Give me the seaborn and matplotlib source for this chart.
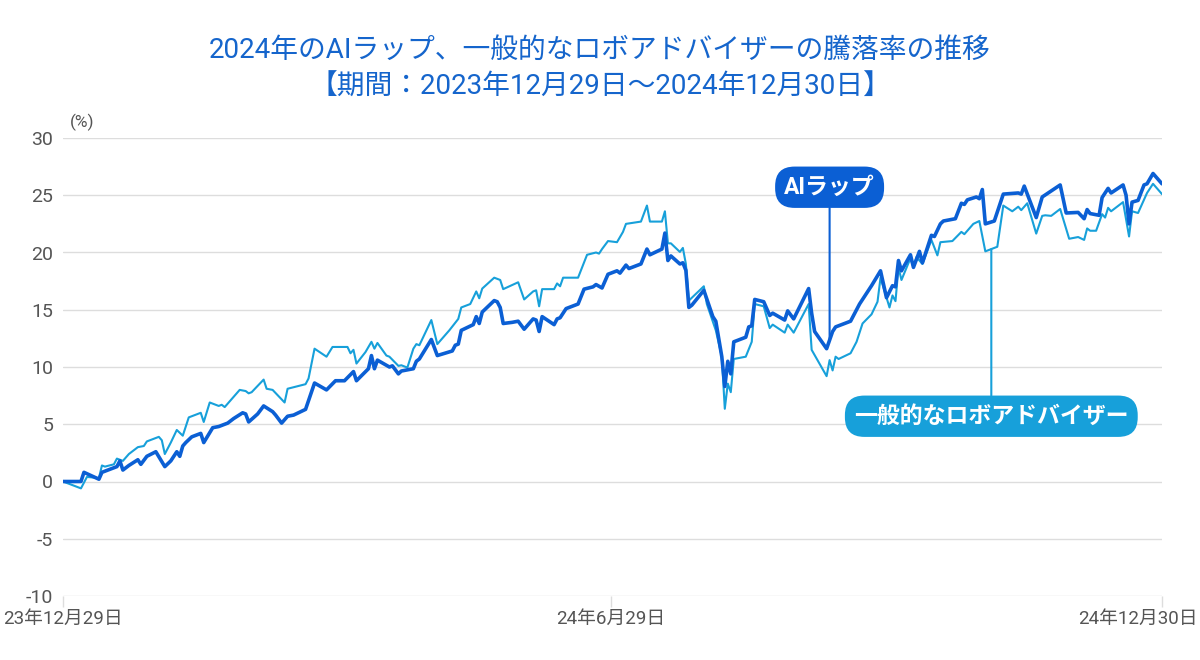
import pandas as pd
import numpy as np
import matplotlib
matplotlib.use("Agg")
import matplotlib.pyplot as plt
import matplotlib.transforms as mtransforms
import seaborn as sns

# days since 2023-12-29 and cumulative return (%)
ai_days = [0, 6, 7, 12, 13, 18, 19, 20, 22, 25, 26, 28, 31, 34, 36, 38, 39, 40, 41, 43,
           46, 47, 50, 52, 55, 57, 60, 61, 62, 65, 67, 70, 71, 73, 75, 77, 81, 84, 88, 91,
           94, 97, 98, 102, 103, 104, 105, 109, 110, 112, 113, 117, 118, 119, 123, 125, 130, 131, 132, 133,
           137, 138, 139, 140, 144, 145, 146, 147, 150, 152, 154, 157, 158, 159, 160, 164, 165, 166, 168, 172,
           174, 177, 178, 180, 182, 185, 186, 188, 189, 193, 195, 196, 200, 201, 202, 203, 206, 207, 208, 209,
           210, 214, 217, 218, 220, 221, 222, 223, 224, 228, 229, 230, 231, 234, 236, 237, 241, 242, 244, 249,
           250, 251, 255, 257, 258, 263, 266, 268, 270, 273, 275, 277, 278, 279, 280, 283, 284, 286, 287, 290,
           291, 293, 294, 298, 300, 301, 302, 305, 306, 307, 308, 311, 314, 319, 320, 321, 325, 327, 333, 335,
           339, 341, 342, 343, 346, 347, 349, 350, 354, 355, 356, 357, 359, 361, 362, 364, 367]
ai_values = [0.0, 0.0, 0.8, 0.2, 0.8, 1.3, 1.8, 1.0, 1.4, 1.9, 1.5, 2.2, 2.6, 1.3, 1.8, 2.6, 2.2, 3.1, 3.4, 3.9,
             4.2, 3.4, 4.7, 4.8, 5.1, 5.5, 6.0, 5.9, 5.2, 5.9, 6.6, 6.1, 5.8, 5.1, 5.7, 5.8, 6.3, 8.6, 8.0, 8.8,
             8.8, 9.6, 8.8, 9.85, 11.0, 9.85, 10.6, 10.0, 10.1, 9.4, 9.65, 9.85, 10.5, 10.7, 12.4, 11.0, 11.4, 11.9, 12.0, 13.2,
             13.7, 14.4, 13.8, 14.8, 15.8, 15.7, 15.2, 13.8, 13.9, 14.0, 13.3, 14.2, 14.1, 13.1, 14.4, 13.7, 14.2, 14.3, 15.1, 15.5,
             16.8, 17.0, 17.2, 16.9, 18.1, 18.4, 18.2, 18.9, 18.6, 19.0, 20.3, 19.8, 20.3, 21.7, 19.3, 19.7, 19.0, 19.1, 18.45, 15.2,
             15.4, 16.7, 14.4, 14.0, 10.9, 8.3, 10.5, 9.4, 12.2, 12.6, 13.5, 13.6, 15.9, 15.7, 14.5, 14.7, 14.1, 14.9, 14.2, 16.85,
             14.7, 13.1, 11.6, 13.1, 13.5, 14.0, 15.5, 16.3, 17.1, 18.4, 16.05, 17.1, 17.0, 19.3, 18.4, 19.8, 18.7, 20.1, 19.1, 21.5,
             21.4, 22.5, 22.75, 22.95, 24.3, 24.2, 24.6, 24.85, 24.7, 25.5, 22.5, 22.75, 25.1, 25.2, 25.1, 25.8, 23.05, 24.85, 25.9, 23.45,
             23.5, 22.95, 23.75, 23.4, 23.25, 24.8, 25.6, 25.2, 25.9, 25.0, 22.5, 24.4, 24.55, 25.9, 26.0, 26.9, 26.0]

robo_days = [0, 6, 8, 12, 13, 14, 17, 18, 20, 22, 25, 27, 28, 32, 33, 34, 36, 38, 40, 41,
             42, 46, 47, 49, 52, 53, 54, 59, 61, 62, 63, 67, 68, 70, 74, 75, 81, 82, 84, 88,
             90, 95, 96, 97, 98, 101, 103, 104, 105, 108, 109, 112, 113, 115, 117, 118, 119, 123, 125, 129,
             132, 133, 136, 138, 139, 140, 144, 146, 147, 152, 154, 157, 158, 159, 160, 164, 165, 166, 167, 172,
             175, 178, 179, 180, 182, 185, 187, 188, 193, 195, 196, 200, 201, 202, 203, 206, 207, 208, 209, 214,
             215, 218, 220, 221, 222, 223, 224, 228, 230, 231, 234, 236, 237, 241, 242, 244, 249, 250, 255, 256,
             257, 258, 259, 263, 265, 267, 270, 272, 273, 276, 277, 278, 279, 280, 283, 284, 285, 287, 290, 292,
             293, 297, 300, 301, 304, 306, 308, 312, 314, 317, 319, 320, 322, 325, 327, 328, 330, 333, 336, 339,
             341, 342, 343, 345, 347, 348, 349, 350, 354, 356, 357, 359, 362, 364, 367]
robo_values = [0.0, -0.6, 0.4, 0.3, 1.4, 1.3, 1.5, 2.0, 1.8, 2.4, 3.0, 3.1, 3.5, 3.9, 3.6, 2.4, 3.4, 4.5, 4.0, 4.8,
               5.6, 6.0, 5.2, 6.9, 6.6, 6.7, 6.5, 8.0, 7.9, 7.7, 7.8, 8.9, 8.1, 8.0, 6.9, 8.1, 8.5, 9.0, 11.6, 10.9,
               11.75, 11.75, 11.2, 11.5, 10.3, 11.3, 12.2, 11.6, 12.1, 11.0, 10.9, 10.1, 10.15, 9.95, 11.6, 12.0, 11.9, 14.1, 12.0, 13.2,
               14.2, 15.2, 15.5, 16.6, 16.0, 16.85, 17.8, 17.6, 16.8, 17.4, 15.9, 16.6, 16.7, 15.3, 16.8, 16.8, 17.3, 17.05, 17.8, 17.8,
               19.8, 20.0, 19.9, 20.3, 21.0, 20.9, 21.8, 22.5, 22.7, 24.1, 22.7, 22.7, 23.6, 20.8, 20.8, 20.05, 20.4, 19.0, 15.8, 17.05,
               15.5, 13.2, 10.9, 6.35, 8.55, 7.8, 10.7, 10.9, 12.2, 15.5, 15.3, 13.4, 13.7, 13.0, 13.7, 13.0, 15.5, 11.5, 9.2, 10.6,
               9.7, 10.9, 10.7, 11.2, 12.2, 13.8, 14.6, 15.7, 17.8, 15.2, 16.25, 15.75, 18.7, 17.6, 19.5, 18.7, 19.6, 19.0, 21.1, 19.75,
               20.9, 21.0, 21.8, 21.6, 22.5, 22.75, 20.1, 20.5, 24.1, 23.6, 24.0, 23.7, 24.3, 21.65, 23.2, 23.25, 23.2, 23.8, 21.2, 21.35,
               21.1, 22.1, 21.9, 21.9, 23.35, 23.05, 23.9, 23.6, 24.4, 21.4, 23.6, 23.45, 25.2, 26.0, 25.1]

start_date = pd.Timestamp("2023-12-29")
end_date = pd.Timestamp("2024-12-30")
tick_dates = ["2023-12-29", "2024-06-29", "2024-12-30"]
tick_labels = ["23年12月29日", "24年6月29日", "24年12月30日"]
y_ticks = [-10, -5, 0, 5, 10, 15, 20, 25, 30]

ai_name = "AIラップ"
robo_name = "一般的なロボアドバイザー"
ai_color = "#0b5fd4"
robo_color = "#17a0da"
title_color = "#1565cc"
label_gray = "#555555"

ai_df = pd.DataFrame({"date": start_date + pd.to_timedelta(ai_days, unit="D"), "value": ai_values})
robo_df = pd.DataFrame({"date": start_date + pd.to_timedelta(robo_days, unit="D"), "value": robo_values})

sns.set_theme(style="white")
plt.rcParams["font.family"] = ["Roboto", "Noto Sans CJK JP", "DejaVu Sans"]

fig = plt.figure(figsize=(12, 6.6), dpi=100)
ax = fig.add_axes([63 / 1200, 64 / 660, 1099 / 1200, 458 / 660])

sns.lineplot(data=robo_df, x="date", y="value", color=robo_color, linewidth=1.5,
             estimator=None, sort=False, ax=ax, zorder=3)
sns.lineplot(data=ai_df, x="date", y="value", color=ai_color, linewidth=2.6,
             estimator=None, sort=False, ax=ax, zorder=4)

ax.set_xlim(start_date, end_date)
ax.set_ylim(-10, 30)
ax.set_yticks(y_ticks)
ax.set_yticklabels([str(v) for v in y_ticks], color=label_gray, fontsize=14)
ax.set_xticks(pd.to_datetime(tick_dates))
ax.set_xticklabels(tick_labels, color=label_gray, fontsize=13.5)
ax.tick_params(axis="y", length=0, pad=7)
ax.tick_params(axis="x", length=8, color="#dddddd", width=1, pad=2, bottom=True)
ax.grid(axis="y", color="#dddddd", linewidth=1)
ax.set_axisbelow(True)
for s in ax.spines.values():
    s.set_visible(False)
ax.set_xlabel("")
ax.set_ylabel("")

# keep the last date label inside the figure
last_label = ax.get_xticklabels()[-1]
last_label.set_horizontalalignment("right")
last_label.set_transform(last_label.get_transform() +
                         mtransforms.ScaledTranslation(36 / 100, 0, fig.dpi_scale_trans))

ax.text(0.006, 1.015, "(%)", transform=ax.transAxes, fontsize=12.5, color=label_gray,
        ha="left", va="bottom")

fig.text(0.5, 0.923, "2024年のAIラップ、一般的なロボアドバイザーの騰落率の推移",
         ha="center", va="center", fontsize=20, color=title_color)
fig.text(0.5, 0.868, "【期間：2023年12月29日～2024年12月30日】",
         ha="center", va="center", fontsize=20, color=title_color)

# callouts
ai_x = start_date + pd.Timedelta(days=256)
ax.annotate(ai_name, xy=(ai_x, 12.4), xytext=(ai_x, 25.7), ha="center", va="center",
            fontsize=16.5, fontweight="bold", color="white", zorder=6,
            bbox=dict(boxstyle="round,pad=0.4,rounding_size=0.85", fc=ai_color, ec="none"),
            arrowprops=dict(arrowstyle="-", color=ai_color, lw=1.5, shrinkA=0, shrinkB=0))
robo_x = start_date + pd.Timedelta(days=310)
ax.annotate(robo_name, xy=(robo_x, 20.3), xytext=(robo_x, 5.7), ha="center", va="center",
            fontsize=16.5, fontweight="bold", color="white", zorder=6,
            bbox=dict(boxstyle="round,pad=0.4,rounding_size=0.85", fc=robo_color, ec="none"),
            arrowprops=dict(arrowstyle="-", color=robo_color, lw=1.5, shrinkA=0, shrinkB=0))

fig.savefig("out.png", dpi=100)
plt.close(fig)
